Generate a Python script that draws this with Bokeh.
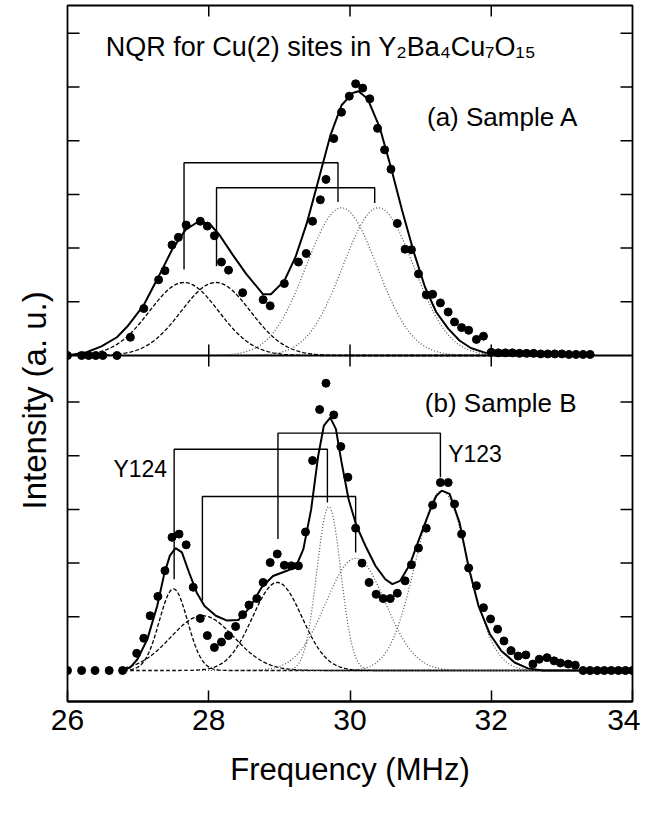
import numpy as np
from bokeh.plotting import figure
from bokeh.models import FixedTicker, Span, Range1d, Title
from bokeh.core.properties import value
from bokeh.embed import file_html
from bokeh.resources import INLINE

# ---------------- data ----------------
# Panel (a) Sample A : measured points (frequency MHz, intensity a.u.)
freq_a = [26.0, 26.2, 26.3, 26.4, 26.5, 26.7,
          26.89, 27.08, 27.29, 27.38, 27.48, 27.57, 27.68, 27.88, 27.98, 28.08,
          28.18, 28.28, 28.48, 28.77, 28.87, 29.07, 29.27, 29.38, 29.47, 29.58,
          29.66, 29.77, 29.88, 29.99, 30.08, 30.18, 30.28, 30.39, 30.49, 30.58,
          30.67, 30.78, 30.87, 30.97, 31.08, 31.17, 31.28, 31.39, 31.48, 31.58,
          31.68, 31.79, 31.89,
          32.0, 32.1, 32.2, 32.3, 32.4, 32.5, 32.6, 32.7, 32.8, 32.9, 33.0,
          33.1, 33.2, 33.3, 33.4]
int_a = [0.0, 0.0, 0.0, 0.0, 0.0, 0.0,
         0.34, 0.875, 1.41, 1.58, 2.06, 2.2, 2.43, 2.5, 2.41, 2.23,
         1.74, 1.59, 1.17, 1.04, 0.925, 1.34, 1.74, 1.9, 2.5, 2.9,
         3.28, 4.04, 4.53, 4.83, 5.06, 4.98, 4.78, 4.23, 3.83, 3.47,
         2.46, 1.98, 1.97, 1.52, 1.13, 1.14, 0.98, 0.81, 0.625, 0.52,
         0.47, 0.3, 0.36,
         0.06, 0.05, 0.05, 0.05, 0.04, 0.04, 0.04, 0.03, 0.03, 0.03, 0.03,
         0.02, 0.02, 0.02, 0.02]

# Panel (a) total fit (solid line)
fit_freq_a = [26.0, 26.27, 26.48, 26.7, 26.86, 27.08, 27.29, 27.48, 27.67, 27.86,
              28.02, 28.15, 28.34, 28.53, 28.77, 28.88, 29.07, 29.23, 29.39,
              29.55, 29.72, 29.88, 30.04, 30.12, 30.25, 30.42, 30.58, 30.74,
              30.9, 31.06, 31.22, 31.39, 31.55, 31.71, 31.92, 32.25, 33.4]
fit_int_a = [0.0, 0.06, 0.17, 0.34, 0.56, 0.94, 1.47, 1.97, 2.34, 2.5,
             2.44, 2.25, 1.875, 1.52, 1.14, 1.14, 1.39, 1.84, 2.47,
             3.25, 4.09, 4.66, 4.89, 4.92, 4.78, 4.25, 3.5, 2.69,
             1.94, 1.28, 0.81, 0.5, 0.28, 0.14, 0.05, 0.03, 0.02]

# Panel (a) fit components: Gaussian centre, height, width (MHz)
comp_a_center = [27.65, 28.10, 29.88, 30.40]
comp_a_height = [1.36, 1.36, 2.75, 2.75]
comp_a_width = [0.49, 0.49, 0.50, 0.50]
comp_a_style = ["dashed", "dashed", "dotted", "dotted"]

# Panel (a) brackets: x_left, y_left_end, y_top, x_right, y_right_end
brk_a = [(27.65, 1.60, 3.59, 29.83, 2.86),
         (28.11, 1.66, 3.125, 30.35, 2.84)]

# Panel (b) Sample B : measured points
freq_b = [26.0, 26.2, 26.39, 26.59, 26.78,
          26.98, 27.08, 27.17, 27.28, 27.38, 27.48, 27.58, 27.68, 27.78, 27.88,
          27.98, 28.08, 28.18, 28.28, 28.38, 28.48, 28.57, 28.68, 28.77, 28.87,
          28.97, 29.07, 29.17, 29.27, 29.37, 29.47, 29.57, 29.66, 29.77, 29.87,
          29.97, 30.08, 30.17, 30.27, 30.37, 30.47, 30.57, 30.67, 30.78, 30.87,
          30.97, 31.08, 31.17, 31.28, 31.39, 31.48, 31.58, 31.68, 31.79, 31.89,
          31.99, 32.09, 32.18, 32.28, 32.38, 32.49, 32.59, 32.68, 32.79, 32.89,
          32.98, 33.09, 33.19,
          33.3, 33.4, 33.5, 33.6, 33.7, 33.8, 33.9, 34.0]
int_b = [0.0, 0.0, 0.0, 0.0, 0.0,
         0.32, 0.6, 1.02, 1.38, 1.86, 2.48, 2.54, 2.34, 1.55, 0.97,
         0.65, 0.43, 0.53, 0.65, 0.82, 1.04, 1.22, 1.34, 1.64, 2.01,
         2.17, 1.96, 1.95, 1.95, 2.58, 3.91, 4.86, 5.35, 4.76, 4.17,
         3.6, 2.65, 2.0, 1.64, 1.42, 1.34, 1.34, 1.44, 1.67, 1.97,
         2.28, 2.65, 3.08, 3.5, 3.5, 3.1, 2.54, 1.91, 1.58, 1.17,
         0.96, 0.77, 0.55, 0.37, 0.27, 0.29, 0.12, 0.21, 0.24, 0.18,
         0.14, 0.12, 0.1,
         0.0, 0.0, 0.0, 0.0, 0.0, 0.0, 0.0, 0.0]

# Panel (b) total fit (solid line)
fit_freq_b = [26.78, 26.89, 26.99, 27.13, 27.27, 27.37, 27.45, 27.53, 27.62,
              27.72, 27.83, 27.94, 28.1, 28.26, 28.42, 28.58, 28.75, 28.91,
              29.07, 29.23, 29.34, 29.45, 29.55, 29.63, 29.72, 29.8, 29.88,
              29.98, 30.09, 30.23, 30.36, 30.5, 30.6, 30.71, 30.85, 30.98,
              31.12, 31.22, 31.3, 31.41, 31.55, 31.68, 31.82, 31.98, 32.14,
              32.33, 32.52, 32.73, 33.24]
fit_int_b = [0.0, 0.06, 0.21, 0.58, 1.2, 1.8, 2.14, 2.28, 2.2,
             1.83, 1.45, 1.2, 1.02, 0.93, 0.94, 1.17, 1.55, 1.76,
             1.84, 1.92, 2.26, 3.0, 4.0, 4.56, 4.71, 4.5, 3.88,
             3.19, 2.7, 2.29, 1.95, 1.7, 1.61, 1.67, 1.98, 2.45,
             2.94, 3.25, 3.35, 3.29, 2.76, 1.92, 1.2, 0.68, 0.37,
             0.15, 0.04, 0.0, 0.0]

# Panel (b) fit components: Gaussian centre, height, width (MHz)
comp_b_center = [27.50, 27.91, 28.97, 29.70, 30.08, 31.30]
comp_b_height = [1.52, 1.02, 1.64, 3.05, 2.09, 3.35]
comp_b_width = [0.20, 0.45, 0.35, 0.17, 0.42, 0.37]
comp_b_style = ["dashed", "dashed", "dashed", "dotted", "dotted", "dotted"]

brk_b = [(27.51, 1.70, 4.12, 29.68, 3.13),
         (27.91, 1.30, 3.24, 30.08, 2.20),
         (28.98, 2.45, 4.42, 31.28, 3.60)]

x_ticks = [26, 28, 30, 32, 34]
x_ticks_inner = [28, 30, 32]

# ---------------- layout constants ----------------
OFFSET_A = 5.866          # panel (a) baseline on the shared intensity axis
Y_MIN, Y_MAX = -0.577, 12.384
TICK_X = 0.17             # inner tick length on the vertical sides (MHz)
TICK_Y = 0.205            # inner tick length on the horizontal sides
FONT = "'Liberation Sans', Arial, 'DejaVu Sans', sans-serif"

ticks_b = [1, 2, 3, 4, 5]
ticks_a = [OFFSET_A + k for k in range(1, 7)]
y_ticks = ticks_b + ticks_a

p = figure(width=640, height=797,
           x_range=Range1d(26, 34), y_range=Range1d(Y_MIN, Y_MAX),
           output_backend="svg", toolbar_location=None,
           min_border_left=67, min_border_right=8,
           min_border_top=5, min_border_bottom=96)
p.xgrid.visible = False
p.ygrid.visible = False
p.yaxis.visible = False
p.outline_line_color = "black"
p.outline_line_width = 1.8
p.background_fill_color = "white"
p.border_fill_color = "white"

xa = p.xaxis[0]
xa.ticker = FixedTicker(ticks=x_ticks)
xa.major_tick_in = 11
xa.major_tick_out = 0
xa.minor_tick_line_color = None
xa.axis_line_width = 1.8
xa.major_tick_line_width = 1.5
xa.major_label_text_font = FONT
xa.major_label_text_font_size = "30px"
xa.major_label_text_color = "black"
xa.major_label_standoff = 8
xa.axis_label = "Frequency (MHz)"
xa.axis_label_text_font = FONT
xa.axis_label_text_font_size = "31px"
xa.axis_label_text_font_style = "normal"
xa.axis_label_text_color = "black"
xa.axis_label_standoff = 19

# vertical axis title, placed along the left side
ytitle = Title(text="Intensity (a. u.)", align="left", offset=192,
               vertical_align="top",
               text_font=FONT, text_font_size="33px", text_font_style="normal",
               text_color="black", standoff=26)
p.add_layout(ytitle, "left")

# inner ticks on the left / right / top sides
n = len(y_ticks)
p.segment(x0=[26] * n, y0=y_ticks, x1=[26 + TICK_X] * n, y1=y_ticks,
          line_color="black", line_width=1.5)
p.segment(x0=[34 - TICK_X] * n, y0=y_ticks, x1=[34] * n, y1=y_ticks,
          line_color="black", line_width=1.5)
m = len(x_ticks_inner)
p.segment(x0=x_ticks_inner, y0=[Y_MAX - TICK_Y] * m, x1=x_ticks_inner, y1=[Y_MAX] * m,
          line_color="black", line_width=1.5)

# divider between the two panels (baseline of panel a) with crossing ticks
p.add_layout(Span(location=OFFSET_A, dimension="width",
                  line_color="black", line_width=1.8))
p.segment(x0=x_ticks_inner, y0=[OFFSET_A - TICK_Y] * m,
          x1=x_ticks_inner, y1=[OFFSET_A + TICK_Y] * m,
          line_color="black", line_width=1.5)


def draw_components(centers, heights, widths, styles, x0, x1, base):
    xs = np.linspace(x0, x1, 400)
    for c, h, w, s in zip(centers, heights, widths, styles):
        ys = base + h * np.exp(-(xs - c) ** 2 / (2 * w ** 2))
        if s == "dashed":
            p.line(xs, ys, line_color="black", line_width=1.3, line_dash="4 2")
        else:
            p.line(xs, ys, line_color="#505050", line_width=1.2, line_dash="1 2")


def draw_brackets(brk, base):
    xs, ys = [], []
    for xl, yl, yt, xr, yr in brk:
        xs.append([xl, xl, xr, xr])
        ys.append([base + yl, base + yt, base + yt, base + yr])
    p.multi_line(xs, ys, line_color="black", line_width=1.4)


# panel (a)
draw_components(comp_a_center, comp_a_height, comp_a_width, comp_a_style,
                26.2, 33.4, OFFSET_A)
p.line(fit_freq_a, [OFFSET_A + v for v in fit_int_a], line_color="black", line_width=2)
draw_brackets(brk_a, OFFSET_A)
p.scatter(freq_a, [OFFSET_A + v for v in int_a], size=8, color="black")

# panel (b)
draw_components(comp_b_center, comp_b_height, comp_b_width, comp_b_style,
                26.8, 33.3, 0.0)
p.line(fit_freq_b, fit_int_b, line_color="black", line_width=2)
draw_brackets(brk_b, 0.0)
p.scatter(freq_b, int_b, size=8, color="black")

# texts inside the frame
p.text(x=[26.54], y=[OFFSET_A + 5.75],
       text=["NQR for Cu(2) sites in Y\u2082Ba\u2084Cu\u2087O\u2081\u2085"],
       text_font=value(FONT), text_font_size=value("27px"),
       text_baseline="middle", text_align="left", text_color="black")
p.text(x=[31.09, 31.06], y=[OFFSET_A + 4.44, 4.99],
       text=["(a) Sample A", "(b) Sample B"],
       text_font=value(FONT), text_font_size=value("26px"),
       text_baseline="middle", text_align="left", text_color="black")
p.text(x=[26.65, 31.39], y=[3.75, 4.04], text=["Y124", "Y123"],
       text_font=value(FONT), text_font_size=value("23px"),
       text_baseline="middle", text_align="left", text_color="black")

open("out.html", "w").write(file_html(p, INLINE))
